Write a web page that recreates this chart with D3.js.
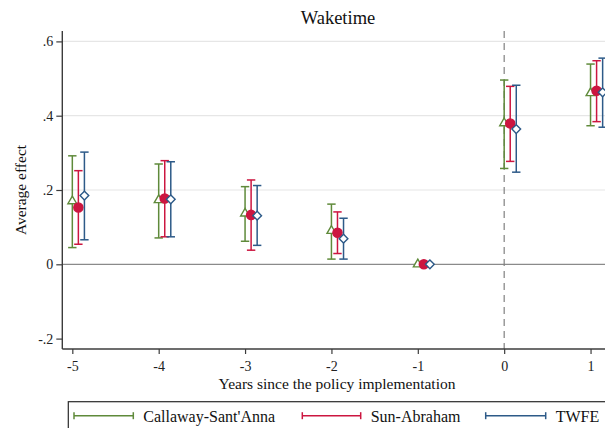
<!DOCTYPE html>
<html>
<head>
<meta charset="utf-8">
<script src="https://cdn.jsdelivr.net/npm/d3@7"></script>
<style>
  html, body { margin: 0; padding: 0; background: #fff; }
  svg { display: block; font-family: "Liberation Serif", "Times New Roman", serif; }
</style>
</head>
<body>
<svg id="chart" width="605" height="428"></svg>
<script>
// Event-study estimates by year relative to policy implementation
const years = [-5, -4, -3, -2, -1, 0, 1];
const yTicks = [-0.2, 0, 0.2, 0.4, 0.6];
const yTickLabels = ["-.2", "0", ".2", ".4", ".6"];
const seriesNames = ["Callaway-Sant'Anna", "Sun-Abraham", "TWFE"];

const csEst = [0.170, 0.173, 0.137, 0.090, 0, 0.380, 0.461];
const csLo  = [0.045, 0.071, 0.062, 0.014, 0, 0.258, 0.373];
const csHi  = [0.292, 0.270, 0.209, 0.162, 0, 0.496, 0.539];

const saEst = [0.153, 0.177, 0.133, 0.085, 0, 0.379, 0.467];
const saLo  = [0.054, 0.074, 0.038, 0.029, 0, 0.277, 0.384];
const saHi  = [0.252, 0.279, 0.227, 0.141, 0, 0.479, 0.548];

const twEst = [0.185, 0.175, 0.131, 0.069, 0, 0.364, 0.463];
const twLo  = [0.066, 0.074, 0.051, 0.014, 0, 0.248, 0.369];
const twHi  = [0.302, 0.276, 0.212, 0.124, 0, 0.482, 0.555];

const series = [
  { name: seriesNames[0], est: csEst, lo: csLo, hi: csHi, color: "#5f8a3a", shift: 0.00, symbol: "triangle" },
  { name: seriesNames[1], est: saEst, lo: saLo, hi: saHi, color: "#cc1640", shift: 0.07, symbol: "circle" },
  { name: seriesNames[2], est: twEst, lo: twLo, hi: twHi, color: "#2d5a88", shift: 0.14, symbol: "diamond" }
];

const svg = d3.select("#chart");
const plot = { left: 62.3, right: 620, top: 31, bottom: 349 };

const x = d3.scaleLinear().domain([-5.116, 1.341]).range([plot.left, plot.right]);
const y = d3.scaleLinear().domain([-0.228, 0.628]).range([plot.bottom, plot.top]);

// gridlines
svg.append("g").selectAll("line")
  .data(yTicks.filter(v => v > 0))
  .join("line")
  .attr("x1", plot.left).attr("x2", plot.right)
  .attr("y1", d => y(d)).attr("y2", d => y(d))
  .attr("stroke", "#e6e6e6").attr("stroke-width", 1.2);

// reference line at zero
svg.append("line")
  .attr("x1", plot.left).attr("x2", plot.right)
  .attr("y1", y(0)).attr("y2", y(0))
  .attr("stroke", "#8a8a8a").attr("stroke-width", 1.3);

// policy start marker
svg.append("line")
  .attr("x1", x(0)).attr("x2", x(0))
  .attr("y1", plot.top).attr("y2", plot.bottom)
  .attr("stroke", "#808080").attr("stroke-width", 1.2)
  .attr("stroke-dasharray", "7,5");

// axes
const yAxis = d3.axisLeft(y).tickValues(yTicks)
  .tickFormat((d, i) => yTickLabels[i]).tickSize(6).tickPadding(3);
const gy = svg.append("g").attr("transform", `translate(${plot.left},0)`).call(yAxis);

const xAxis = d3.axisBottom(x).tickValues(years)
  .tickFormat(d3.format("d")).tickSize(5).tickPadding(7);
const gx = svg.append("g").attr("transform", `translate(0,${plot.bottom})`).call(xAxis);

[gx, gy].forEach(g => {
  g.select(".domain").attr("stroke", "#3c3c3c").attr("stroke-width", 1.4);
  g.selectAll(".tick line").attr("stroke", "#3c3c3c").attr("stroke-width", 1.2);
  g.selectAll(".tick text").attr("fill", "#222").attr("font-size", 14)
    .attr("font-family", "Liberation Serif, Times New Roman, serif");
});
gx.select(".domain").attr("d", `M${plot.left},0H${plot.right}`);
gy.select(".domain").attr("d", `M0,${plot.top}V${plot.bottom}`);
gx.selectAll(".tick text").text(d => d < 0 ? "-" + Math.abs(d) : String(d));

// error bars and markers
const cap = 4.2;
series.forEach(s => {
  const g = svg.append("g");
  const rows = years.map((yr, i) => ({ xv: yr + s.shift, est: s.est[i], lo: s.lo[i], hi: s.hi[i] }));
  const bars = rows.filter(r => r.hi > r.lo);
  g.selectAll("line.stem").data(bars).join("line")
    .attr("x1", d => x(d.xv)).attr("x2", d => x(d.xv))
    .attr("y1", d => y(d.lo)).attr("y2", d => y(d.hi))
    .attr("stroke", s.color).attr("stroke-width", 1.5);
  ["lo", "hi"].forEach(k => {
    g.selectAll("line.cap-" + k).data(bars).join("line")
      .attr("x1", d => x(d.xv) - cap).attr("x2", d => x(d.xv) + cap)
      .attr("y1", d => y(d[k])).attr("y2", d => y(d[k]))
      .attr("stroke", s.color).attr("stroke-width", 1.5);
  });
  let sym;
  if (s.symbol === "triangle") sym = d3.symbol().type(d3.symbolTriangle).size(34);
  else if (s.symbol === "circle") sym = d3.symbol().type(d3.symbolCircle).size(66);
  else sym = d3.symbol().type(d3.symbolSquare).size(38);
  g.selectAll("path.mk").data(rows).join("path")
    .attr("d", sym())
    .attr("transform", d => `translate(${x(d.xv)},${y(d.est)})` + (s.symbol === "diamond" ? " rotate(45)" : ""))
    .attr("fill", s.symbol === "circle" ? s.color : "#fff")
    .attr("stroke", s.color).attr("stroke-width", 1.4);
});

// titles
svg.append("text").attr("x", 338).attr("y", 24.3).attr("text-anchor", "middle")
  .attr("font-size", 18.5).attr("fill", "#111").text("Waketime");
svg.append("text").attr("x", 337).attr("y", 389).attr("text-anchor", "middle")
  .attr("font-size", 15.5).attr("fill", "#111").text("Years since the policy implementation");
svg.append("text").attr("transform", "translate(26,190) rotate(-90)").attr("text-anchor", "middle")
  .attr("font-size", 15.5).attr("fill", "#111").text("Average effect");

// legend
const lg = svg.append("g");
lg.append("rect").attr("x", 68.3).attr("y", 401.7).attr("width", 560).attr("height", 40)
  .attr("fill", "none").attr("stroke", "#2a2a2a").attr("stroke-width", 1.2);
const legendX = [74, 302.3, 485.7];
const legendLen = [59.3, 58.4, 60];
const legendY = 415.7;
series.forEach((s, i) => {
  const x0 = legendX[i], x1 = x0 + legendLen[i];
  lg.append("line").attr("x1", x0).attr("x2", x1).attr("y1", legendY).attr("y2", legendY)
    .attr("stroke", s.color).attr("stroke-width", 1.5);
  [x0, x1].forEach(xx => lg.append("line").attr("x1", xx).attr("x2", xx)
    .attr("y1", legendY - 3.5).attr("y2", legendY + 3.5)
    .attr("stroke", s.color).attr("stroke-width", 1.5));
  lg.append("text").attr("x", x1 + 10).attr("y", legendY + 6).attr("font-size", 16)
    .attr("fill", "#111").text(s.name);
});
</script>
</body>
</html>
